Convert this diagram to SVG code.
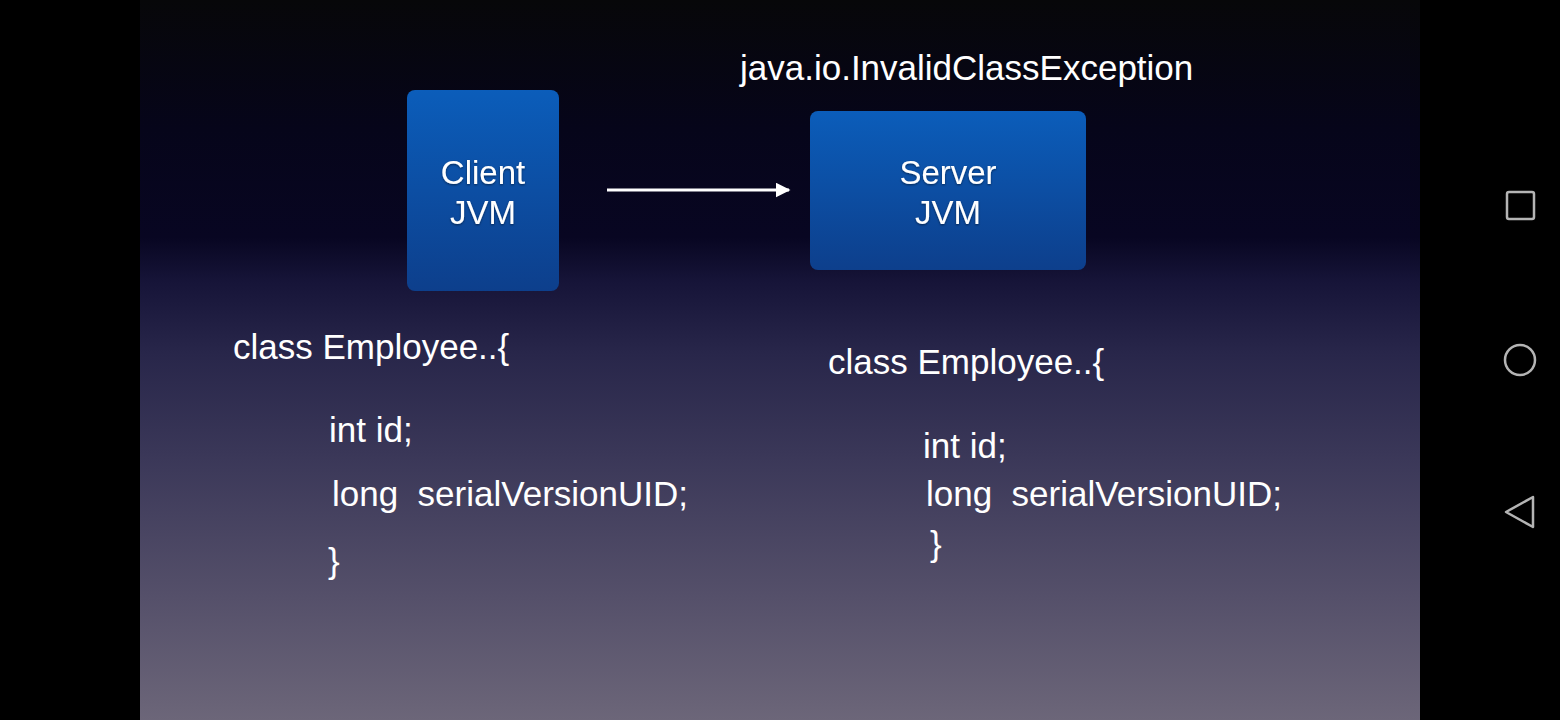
<svg xmlns="http://www.w3.org/2000/svg" width="1560" height="720" viewBox="0 0 1560 720">
<defs>
<linearGradient id="bg" x1="0" y1="0" x2="0" y2="1">
<stop offset="0" stop-color="#070709"/>
<stop offset="0.18" stop-color="#06051a"/>
<stop offset="0.33" stop-color="#080622"/>
<stop offset="0.39" stop-color="#161438"/>
<stop offset="0.49" stop-color="#28264a"/>
<stop offset="0.63" stop-color="#3a3758"/>
<stop offset="0.83" stop-color="#55506a"/>
<stop offset="1" stop-color="#6c6679"/>
</linearGradient>
<linearGradient id="box" x1="0" y1="0" x2="0" y2="1">
<stop offset="0" stop-color="#0b5dba"/>
<stop offset="1" stop-color="#0d3f8c"/>
</linearGradient>
<marker id="ah" viewBox="0 0 10 10" refX="9" refY="5" markerWidth="5" markerHeight="5" markerUnits="strokeWidth" orient="auto">
<path d="M0,0 L10,5 L0,10 z" fill="#ffffff"/>
</marker>
<filter id="sh" x="-10%" y="-10%" width="120%" height="130%">
<feDropShadow dx="0" dy="1" stdDeviation="1" flood-color="#000" flood-opacity="0.5"/>
</filter>
</defs>
<style>
.t{font-family:"Liberation Sans","Helvetica",Arial,sans-serif;font-size:35px;fill:#ffffff;}
.b{font-size:33px;text-anchor:middle;}
.nav{fill:none;stroke:#b4b4b4;stroke-width:2.5;}
</style>
<rect x="0" y="0" width="1560" height="720" fill="#000000"/>
<rect x="140" y="0" width="1280" height="720" fill="url(#bg)"/>

<g id="client">
<rect x="407" y="90" width="152" height="201" rx="8" fill="url(#box)"/>
<text class="t b" x="483" y="184" filter="url(#sh)">Client</text>
<text class="t b" x="483" y="224" filter="url(#sh)">JVM</text>
</g>

<g id="server">
<rect x="810" y="111" width="276" height="159" rx="8" fill="url(#box)"/>
<text class="t b" x="948" y="184" filter="url(#sh)">Server</text>
<text class="t b" x="948" y="224" filter="url(#sh)">JVM</text>
</g>

<g id="connectors">
<line x1="607" y1="190" x2="789" y2="190" stroke="#ffffff" stroke-width="3" marker-end="url(#ah)"/>
</g>

<g id="exception">
<text class="t" x="740" y="80">java.io.InvalidClassException</text>
</g>

<g id="client-class">
<text class="t" x="233" y="359">class Employee..{</text>
<text class="t" x="329" y="442">int id;</text>
<text class="t" x="332" y="506" xml:space="preserve">long  serialVersionUID;</text>
<text class="t" x="328" y="573">}</text>
</g>

<g id="server-class">
<text class="t" x="828" y="374">class Employee..{</text>
<text class="t" x="923" y="458">int id;</text>
<text class="t" x="926" y="506" xml:space="preserve">long  serialVersionUID;</text>
<text class="t" x="930" y="556">}</text>
</g>

<g id="navbar">
<rect class="nav" x="1507" y="192" width="27" height="27" rx="2"/>
<circle class="nav" cx="1520" cy="360" r="15"/>
<path class="nav" d="M1533,497 L1506,512 L1533,527 Z" stroke-linejoin="round"/>
</g>
</svg>
